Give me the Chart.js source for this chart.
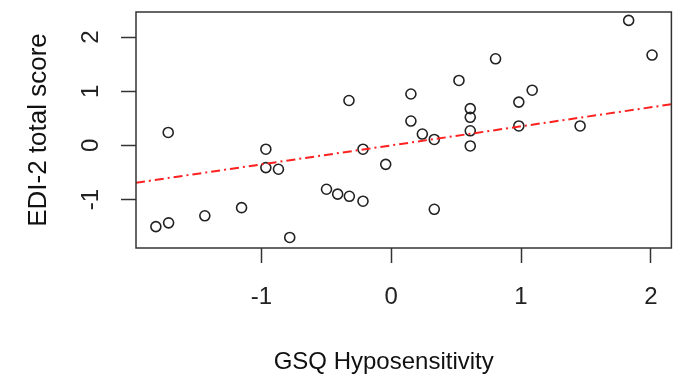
<!DOCTYPE html>
<html>
<head>
<meta charset="utf-8">
<script src="https://cdn.jsdelivr.net/npm/chart.js@4"></script>
<style>
  body { margin: 0; background: #fff; }
  #wrap { width: 678px; height: 382px; }
</style>
</head>
<body>
<div id="wrap"><canvas id="myChart"></canvas></div>
<script>
// GSQ Hyposensitivity (x) vs EDI-2 total score (y)
const hypoX = [
  -1.717, -1.812, -1.714, -1.435, -1.152, -0.965, -0.965, -0.868, -0.781,
  -0.325, -0.498, -0.412, -0.322, -0.217, -0.217, -0.042,
  1.829, 2.009, 0.804, 0.522, 0.152, 1.086, 0.983, 0.609, 0.609,
  0.152, 0.240, 0.332, 0.609, 0.609, 0.983, 1.455, 0.332
];
const ediY = [
  0.24, -1.50, -1.43, -1.30, -1.15, -0.07, -0.41, -0.44, -1.70,
  0.83, -0.81, -0.90, -0.94, -0.07, -1.03, -0.35,
  2.31, 1.67, 1.60, 1.20, 0.95, 1.02, 0.80, 0.68, 0.52,
  0.45, 0.21, 0.11, 0.27, -0.01, 0.36, 0.36, -1.18
];
// fitted line, read at the two ends of the plot
const fitX = [-1.965, 2.158];
const fitY = [-0.69, 0.76];

const xRange = [-1.965, 2.158];
const yRange = [-1.895, 2.465];

const points = hypoX.map((x, i) => ({ x: x, y: ediY[i] }));
const fitLine = fitX.map((x, i) => ({ x: x, y: fitY[i] }));

const boxPlugin = {
  id: "box",
  afterDraw(chart) {
    const a = chart.chartArea;
    const ctx = chart.ctx;
    ctx.save();
    ctx.strokeStyle = "#333";
    ctx.lineWidth = 1.5;
    ctx.strokeRect(a.left, a.top, a.right - a.left, a.bottom - a.top);
    ctx.restore();
  },
};

const font = "'Liberation Sans', Arial, sans-serif";

var ctx = document.getElementById("myChart").getContext("2d");
var myChart = new Chart(ctx, {
  type: "scatter",
  data: {
    datasets: [
      {
        data: points,
        pointRadius: 5,
        pointHoverRadius: 5,
        pointBorderWidth: 1.6,
        borderColor: "#222",
        backgroundColor: "rgba(0,0,0,0)",
        order: 2,
      },
      {
        type: "line",
        data: fitLine,
        borderColor: "#ff2020",
        borderWidth: 2,
        borderDash: [9, 4, 2, 4],
        pointRadius: 0,
        fill: false,
        order: 1,
      },
    ],
  },
  options: {
    responsive: true,
    maintainAspectRatio: false,
    animation: false,
    layout: { padding: { top: 12, right: 6, left: 0, bottom: 0 } },
    plugins: {
      legend: { display: false },
      tooltip: { enabled: false },
    },
    scales: {
      x: {
        type: "linear",
        min: xRange[0],
        max: xRange[1],
        afterFit(scale) {
          scale.height = 134;
          scale.paddingLeft = 0;
          scale.paddingRight = 0;
        },
        grid: { drawOnChartArea: false, drawTicks: true, tickLength: 15, tickWidth: 1.5, tickColor: "#333" },
        border: { display: false },
        ticks: {
          stepSize: 1,
          includeBounds: false,
          padding: 20,
          color: "#222",
          font: { family: font, size: 24 },
        },
        title: {
          display: true,
          // trailing spaces move the centred title a little left, as in the source
          text: "GSQ Hyposensitivity      ",
          color: "#111",
          font: { family: font, size: 24 },
          padding: { top: 0, bottom: 5 },
        },
      },
      y: {
        type: "linear",
        min: yRange[0],
        max: yRange[1],
        afterFit(scale) {
          scale.width = 136;
          scale.paddingTop = 0;
          scale.paddingBottom = 0;
        },
        grid: { drawOnChartArea: false, drawTicks: true, tickLength: 15, tickWidth: 1.5, tickColor: "#333" },
        border: { display: false },
        ticks: {
          stepSize: 1,
          includeBounds: false,
          minRotation: 90,
          maxRotation: 90,
          crossAlign: "center",
          padding: 19,
          color: "#222",
          font: { family: font, size: 24 },
        },
        title: {
          display: true,
          text: "EDI-2 total score",
          color: "#111",
          font: { family: font, size: 26 },
          padding: { top: 23, bottom: 0 },
        },
      },
    },
  },
  plugins: [boxPlugin],
});
</script>
</body>
</html>
